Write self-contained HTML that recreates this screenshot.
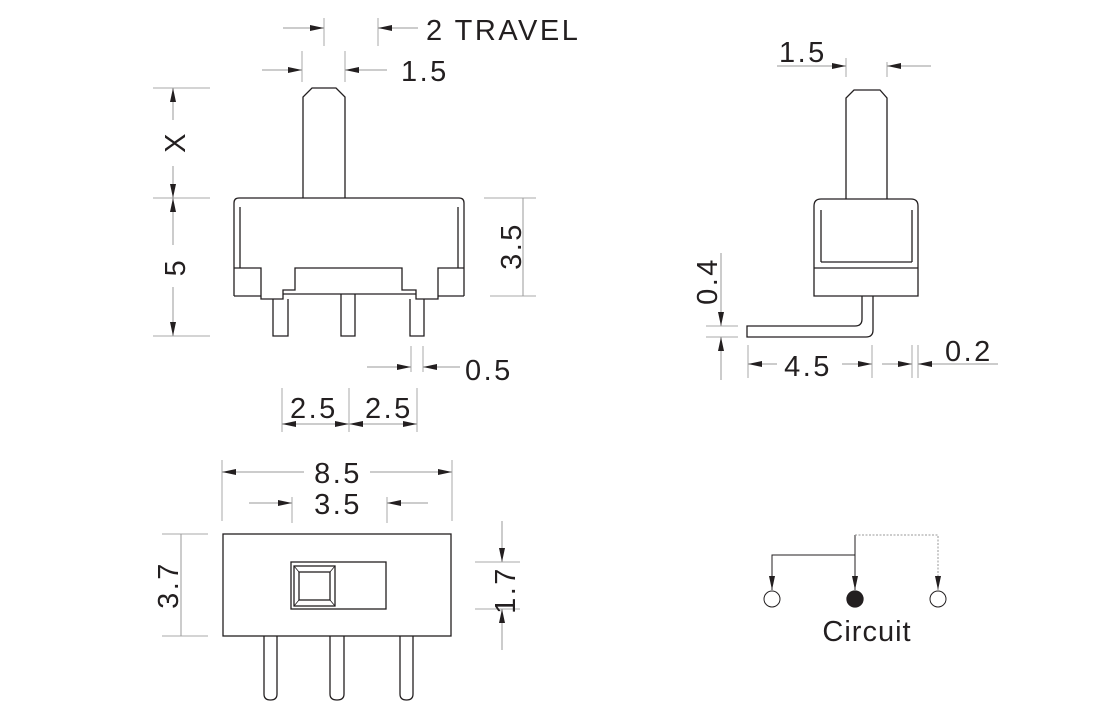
<!DOCTYPE html>
<html><head><meta charset="utf-8"><style>
html,body{margin:0;padding:0;background:#fff;}
svg{display:block;}
text{font-family:"Liberation Sans",sans-serif;fill:#231f20;}
</style></head><body>
<svg width="1120" height="722" viewBox="0 0 1120 722" xmlns="http://www.w3.org/2000/svg">
<defs>
<marker id="a" viewBox="0 0 14 6" refX="14" refY="3" markerWidth="14" markerHeight="6" markerUnits="userSpaceOnUse" orient="auto"><path d="M0,0L14,3L0,6z" fill="#231f20"/></marker>
</defs>
<g stroke="#aaa" stroke-width="1" fill="none">
<line x1="324" y1="18" x2="324" y2="46"/><line x1="378" y1="18" x2="378" y2="46"/>
<line x1="302" y1="51" x2="302" y2="82"/><line x1="345" y1="51" x2="345" y2="82"/>
<line x1="153" y1="88" x2="210" y2="88"/><line x1="153" y1="198" x2="210" y2="198"/><line x1="153" y1="336" x2="210" y2="336"/>
<line x1="484" y1="198" x2="536" y2="198"/><line x1="490" y1="296" x2="536" y2="296"/>
<line x1="411" y1="346" x2="411" y2="372"/><line x1="423" y1="346" x2="423" y2="372"/>
<line x1="282" y1="388" x2="282" y2="432"/><line x1="349" y1="388" x2="349" y2="432"/><line x1="417" y1="388" x2="417" y2="432"/>
<line x1="222" y1="460" x2="222" y2="521"/><line x1="452" y1="460" x2="452" y2="521"/>
<line x1="292" y1="497" x2="292" y2="523"/><line x1="387" y1="497" x2="387" y2="523"/>
<line x1="162" y1="534" x2="208" y2="534"/><line x1="162" y1="636" x2="208" y2="636"/>
<line x1="475" y1="562" x2="520" y2="562"/><line x1="475" y1="609" x2="520" y2="609"/>
<line x1="846" y1="58" x2="846" y2="77"/><line x1="887" y1="62" x2="887" y2="77"/>
<line x1="706" y1="326" x2="738" y2="326"/><line x1="706" y1="337" x2="738" y2="337"/>
<line x1="748" y1="345" x2="748" y2="378"/><line x1="872" y1="345" x2="872" y2="378"/><line x1="912" y1="345" x2="912" y2="378"/><line x1="918" y1="345" x2="918" y2="378"/>
</g>
<g stroke="#999" stroke-width="1" fill="none">
<line x1="283" y1="28" x2="324" y2="28" marker-end="url(#a)"/>
<line x1="418" y1="28" x2="378" y2="28" marker-end="url(#a)"/>
<line x1="262" y1="70" x2="302" y2="70" marker-end="url(#a)"/>
<line x1="387" y1="70" x2="345" y2="70" marker-end="url(#a)"/>
<line x1="173" y1="120" x2="173" y2="88" marker-end="url(#a)"/>
<line x1="173" y1="166" x2="173" y2="198" marker-end="url(#a)"/>
<line x1="173" y1="245" x2="173" y2="198" marker-end="url(#a)"/>
<line x1="173" y1="287" x2="173" y2="336" marker-end="url(#a)"/>
<line x1="523" y1="198" x2="523" y2="296"/>
<line x1="367" y1="367" x2="411" y2="367" marker-end="url(#a)"/>
<line x1="460" y1="367" x2="423" y2="367" marker-end="url(#a)"/>
<line x1="315" y1="424" x2="282" y2="424" marker-end="url(#a)"/>
<line x1="315" y1="424" x2="349" y2="424" marker-end="url(#a)"/>
<line x1="383" y1="424" x2="349" y2="424" marker-end="url(#a)"/>
<line x1="383" y1="424" x2="417" y2="424" marker-end="url(#a)"/>
<line x1="304" y1="472" x2="222" y2="472" marker-end="url(#a)"/>
<line x1="370" y1="472" x2="452" y2="472" marker-end="url(#a)"/>
<line x1="249" y1="503" x2="292" y2="503" marker-end="url(#a)"/>
<line x1="428" y1="503" x2="387" y2="503" marker-end="url(#a)"/>
<line x1="181" y1="534" x2="181" y2="636"/>
<line x1="502" y1="521" x2="502" y2="562" marker-end="url(#a)"/>
<line x1="502" y1="650" x2="502" y2="609" marker-end="url(#a)"/>
<line x1="777" y1="66" x2="846" y2="66" marker-end="url(#a)"/>
<line x1="931" y1="66" x2="887" y2="66" marker-end="url(#a)"/>
<line x1="721" y1="253" x2="721" y2="326" marker-end="url(#a)"/>
<line x1="721" y1="380" x2="721" y2="337" marker-end="url(#a)"/>
<line x1="777" y1="364" x2="748" y2="364" marker-end="url(#a)"/>
<line x1="842" y1="364" x2="872" y2="364" marker-end="url(#a)"/>
<line x1="882" y1="364" x2="912" y2="364" marker-end="url(#a)"/>
<line x1="998" y1="364" x2="918" y2="364" marker-end="url(#a)"/>
</g>
<g stroke="#231f20" stroke-width="1.3" fill="none">
<path d="M303,198V97L312,88H336L345,97V198"/>
<path d="M234,296V203Q234,198 239,198H459Q464,198 464,203V296"/>
<line x1="240" y1="207" x2="240" y2="268"/><line x1="458" y1="207" x2="458" y2="268"/>
<path d="M234,296H261M438,296H464"/>
<path d="M234,268H261V299H283V290H295V268H402V290H416V299H438V268H464"/>
<line x1="283" y1="294" x2="416" y2="294"/>
<path d="M273,299V336H288V299M341,294V336H355V294M410,299V336H424V299"/>
<path d="M846,199V98L854,90H880L887,98V199"/>
<path d="M814,296V206Q814,199 821,199H911Q918,199 918,206V296Z"/>
<line x1="821" y1="210" x2="821" y2="262"/><line x1="912" y1="210" x2="912" y2="262"/>
<line x1="821" y1="262" x2="912" y2="262"/><line x1="814" y1="268" x2="918" y2="268"/>
<path d="M873,296V330Q873,337 866,337H747V326H855Q862,326 862,319V296"/>
<rect x="223" y="534" width="228" height="102"/>
<rect x="291" y="562" width="95" height="47"/>
<rect x="294" y="566" width="41" height="40"/>
<rect x="299" y="572" width="31" height="28"/>
<path d="M294,566L299,572M335,566L330,572M294,606L299,600M335,606L330,600" stroke-width="0.8"/>
<path d="M264,636V694Q264,700 270.5,700Q277,700 277,694V636"/>
<path d="M330,636V694Q330,700 337,700Q344,700 344,694V636"/>
<path d="M400,636V694Q400,700 406.5,700Q413,700 413,694V636"/>
<path d="M772,590V555H855" stroke-width="1"/>
<line x1="772" y1="575" x2="772" y2="590" marker-end="url(#a)" stroke-width="1"/>
<line x1="855" y1="535" x2="855" y2="590" marker-end="url(#a)" stroke-width="1"/>
<path d="M855,535H938V590" stroke="#999" stroke-dasharray="2,1.5" stroke-width="1"/>
<line x1="938" y1="575" x2="938" y2="590" marker-end="url(#a)" stroke="#999" stroke-width="1"/>
<circle cx="772" cy="599" r="8" stroke-width="1"/>
<circle cx="855" cy="599" r="8" fill="#231f20"/>
<circle cx="938" cy="599" r="8" stroke-width="1"/>
</g>
<g font-size="29" letter-spacing="2.5">
<text x="426" y="40">2 TRAVEL</text>
<text x="401" y="81">1.5</text>
<text x="465" y="380">0.5</text>
<text x="290" y="418">2.5</text>
<text x="365" y="418">2.5</text>
<text x="338" y="483" text-anchor="middle">8.5</text>
<text x="338" y="514" text-anchor="middle">3.5</text>
<text x="779" y="62">1.5</text>
<text x="808" y="376" text-anchor="middle">4.5</text>
<text x="945" y="361">0.2</text>
<text x="867" y="641" text-anchor="middle" letter-spacing="1">Circuit</text>
<text transform="translate(185,142) rotate(-90)" text-anchor="middle">X</text>
<text transform="translate(185,267) rotate(-90)" text-anchor="middle">5</text>
<text transform="translate(521,246) rotate(-90)" text-anchor="middle">3.5</text>
<text transform="translate(178,585) rotate(-90)" text-anchor="middle">3.7</text>
<text transform="translate(515,590) rotate(-90)" text-anchor="middle">1.7</text>
<text transform="translate(717,281) rotate(-90)" text-anchor="middle">0.4</text>
</g>
</svg>
</body></html>
